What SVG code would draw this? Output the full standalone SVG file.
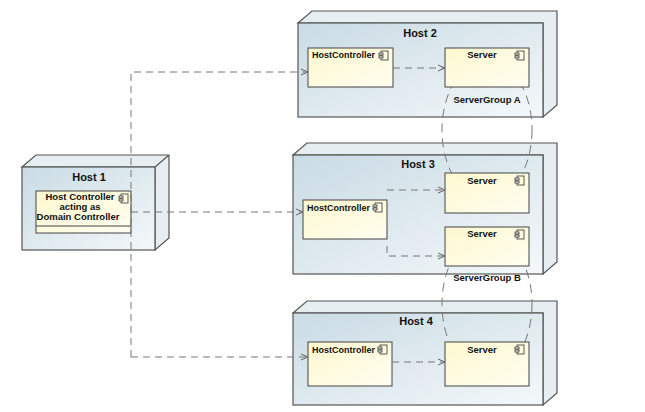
<svg xmlns="http://www.w3.org/2000/svg" width="645" height="412" viewBox="0 0 645 412">
<defs>
<linearGradient id="ng" x1="0" y1="0" x2="1" y2="1"><stop offset="0" stop-color="#c9dbe4"/><stop offset="1" stop-color="#f4f8fa"/></linearGradient>
<linearGradient id="cg" x1="0" y1="0" x2="1" y2="1"><stop offset="0" stop-color="#fdf8cf"/><stop offset="1" stop-color="#fffdf0"/></linearGradient>
<marker id="a" markerWidth="8" markerHeight="8" refX="7" refY="4" orient="auto" markerUnits="userSpaceOnUse"><path d="M0,1 L7,4 L0,7" fill="none" stroke="#666" stroke-width="1"/></marker>
<g id="ic"><rect x="0" y="0" width="7" height="9" fill="none" stroke="#333" stroke-width="0.8"/><rect x="-2" y="2" width="4" height="2" fill="#fff" stroke="#333" stroke-width="0.8"/><rect x="-2" y="5" width="4" height="2" fill="#fff" stroke="#333" stroke-width="0.8"/></g>
</defs>
<style>
.face{fill:url(#ng);stroke:#555;stroke-width:1.2}
.side{fill:#e6eef2;stroke:#555;stroke-width:1.2}
.comp{fill:url(#cg);stroke:#444;stroke-width:1}
text{font-family:"Liberation Sans",Arial,sans-serif;font-weight:bold;fill:#111}
.h{font-size:11px}
.c{font-size:9.5px}
.hc{font-size:9px}
.con{fill:none;stroke:#777;stroke-width:1;stroke-dasharray:7,5}
.grp{fill:none;stroke:#777;stroke-width:1;stroke-dasharray:9,6}
</style>
<g id="host1">
<path class="side" d="M22,167 L36,155 L169,155 L169,238 L155,250 L155,167 Z M155,167 L169,155"/>
<rect class="face" x="22" y="167" width="133" height="83"/>
<text class="h" x="89" y="181" text-anchor="middle">Host 1</text>
<rect class="comp" x="36" y="191" width="95" height="42"/>
<line x1="36" y1="226" x2="131" y2="226" stroke="#444"/>
<text class="c" x="80" y="200" text-anchor="middle">Host Controller</text>
<text class="c" x="80" y="210" text-anchor="middle">acting as</text>
<text class="c" x="78" y="220" text-anchor="middle">Domain Controller</text>
<use href="#ic" x="121" y="194"/>
</g>
<g id="host2">
<path class="side" d="M298,23 L312,11 L557,11 L557,105 L543,117 L543,23 Z"/>
<rect class="face" x="298" y="23" width="245" height="94"/>
<text class="h" x="420" y="37" text-anchor="middle">Host 2</text>
</g>
<g id="host3">
<path class="side" d="M293,155 L307,143 L557,143 L557,262 L543,274 L543,155 Z"/>
<rect class="face" x="293" y="155" width="250" height="119"/>
<text class="h" x="418" y="168" text-anchor="middle">Host 3</text>
</g>
<g id="host4">
<path class="side" d="M293,313 L307,301 L557,301 L557,393 L543,405 L543,313 Z"/>
<rect class="face" x="293" y="313" width="250" height="92"/>
<text class="h" x="416" y="325" text-anchor="middle">Host 4</text>
</g>
<g id="groups">
<ellipse class="grp" cx="487" cy="130" rx="45" ry="70"/>
<ellipse class="grp" cx="487" cy="304" rx="45" ry="70"/>
<text class="c" x="487" y="103" text-anchor="middle">ServerGroup A</text>
<text class="c" x="487" y="281" text-anchor="middle">ServerGroup B</text>
</g>
<g id="hc2"><rect class="comp" x="308" y="48" width="85" height="39"/><text class="hc" x="312" y="58">HostController</text><use href="#ic" x="381" y="51"/></g>
<g id="s2"><rect class="comp" x="445" y="48" width="84" height="39"/><text class="c" x="482" y="58" text-anchor="middle">Server</text><use href="#ic" x="517" y="51"/></g>
<g id="hc3"><rect class="comp" x="303" y="200" width="84" height="39"/><text class="hc" x="307" y="211">HostController</text><use href="#ic" x="375" y="203"/></g>
<g id="s3a"><rect class="comp" x="445" y="173" width="84" height="40"/><text class="c" x="482" y="184" text-anchor="middle">Server</text><use href="#ic" x="517" y="176"/></g>
<g id="s3b"><rect class="comp" x="445" y="227" width="84" height="39"/><text class="c" x="482" y="237" text-anchor="middle">Server</text><use href="#ic" x="517" y="230"/></g>
<g id="hc4"><rect class="comp" x="308" y="342" width="84" height="44"/><text class="hc" x="312" y="353">HostController</text><use href="#ic" x="380" y="345"/></g>
<g id="s4"><rect class="comp" x="445" y="342" width="84" height="44"/><text class="c" x="482" y="353" text-anchor="middle">Server</text><use href="#ic" x="517" y="345"/></g>
<g id="connectors">
<path class="con" d="M131,357 V72 H308" marker-end="url(#a)"/>
<path class="con" d="M131,357 H308" marker-end="url(#a)"/>
<path class="con" d="M131,212 H303" marker-end="url(#a)"/>
<path class="con" d="M393,68 H445" marker-end="url(#a)"/>
<path class="con" d="M387,190 H445" marker-end="url(#a)"/>
<path class="con" d="M387,246 V256 H445" marker-end="url(#a)"/>
<path class="con" d="M392,362 H445" marker-end="url(#a)"/>
</g>
</svg>
